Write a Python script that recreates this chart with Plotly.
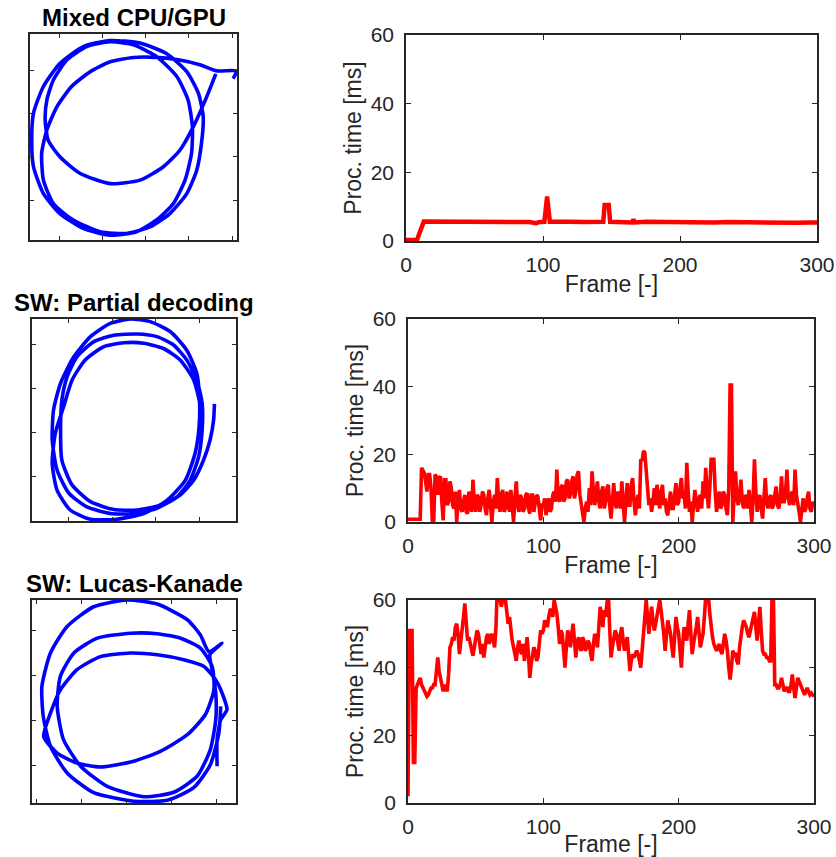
import plotly.graph_objects as go

# ---------------- data ----------------
titles = ["Mixed CPU/GPU", "SW: Partial decoding", "SW: Lucas-Kanade"]

# trajectories (arbitrary ground units, 1 tick = 1 unit)
traj1_x = [4.02, 4.10, 3.64, 3.25, 2.79, 2.25, 1.72, 1.18, 0.72, 0.29, -0.05, -0.28, -0.40, -0.36, -0.13, 0.33,
           0.95, 1.56, 2.10, 2.56, 2.95, 3.18, 3.29, 3.33, 3.22, 2.95, 2.48, 1.87, 1.18, 0.56, 0.02, -0.36,
           -0.59, -0.63, -0.59, -0.36, 0.02, 0.56, 1.18, 1.79, 2.25, 2.64, 2.91, 3.06, 3.08, 2.98, 2.72, 2.25,
           1.72, 1.18, 0.64, 0.18, -0.13, -0.28, -0.32, -0.25, 0.02, 0.48, 1.18, 1.87, 2.41, 2.79, 3.10, 3.41, 3.62]
traj1_y = [2.80, 2.98, 2.98, 3.12, 3.23, 3.29, 3.29, 3.19, 2.96, 2.62, 2.15, 1.62, 1.08, 0.46, -0.08, -0.46,
           -0.73, -0.77, -0.62, -0.31, 0.15, 0.69, 1.31, 1.92, 2.46, 2.96, 3.38, 3.62, 3.68, 3.54, 3.15, 2.62,
           2.00, 1.38, 0.77, 0.15, -0.31, -0.65, -0.81, -0.73, -0.46, -0.08, 0.46, 1.08, 1.69, 2.31, 2.85, 3.31,
           3.58, 3.65, 3.54, 3.23, 2.77, 2.31, 1.85, 1.38, 1.00, 0.62, 0.38, 0.46, 0.77, 1.15, 1.69, 2.38, 2.91]

traj2_x = [3.33, 3.31, 3.23, 3.08, 2.86, 2.55, 2.10, 1.57, 1.04, 0.51, 0.09, -0.14, -0.17, -0.14, -0.02, 0.20,
           0.58, 1.04, 1.57, 2.02, 2.40, 2.70, 2.93, 3.05, 3.05, 2.97, 2.78, 2.48, 2.02, 1.49, 0.96, 0.43,
           0.02, -0.25, -0.36, -0.33, -0.17, 0.13, 0.51, 0.96, 1.42, 1.87, 2.33, 2.70, 2.93, 2.99, 2.98, 2.89,
           2.67, 2.25, 1.72, 1.11, 0.51, 0.05, -0.25, -0.36, -0.29, -0.10, 0.09, 0.39, 0.81, 1.27, 1.72, 2.17,
           2.55, 2.86, 3.01, 3.03]
traj2_y = [1.64, 1.27, 0.82, 0.36, -0.09, -0.43, -0.66, -0.77, -0.76, -0.58, -0.20, 0.36, 1.05, 1.73, 2.26, 2.71,
           3.05, 3.20, 3.23, 3.17, 2.98, 2.64, 2.18, 1.65, 1.05, 0.44, -0.09, -0.47, -0.73, -0.85, -0.85, -0.70,
           -0.39, 0.14, 0.82, 1.50, 2.11, 2.71, 3.17, 3.47, 3.57, 3.51, 3.28, 2.86, 2.33, 1.73, 1.12, 0.52,
           -0.09, -0.55, -0.85, -0.98, -0.98, -0.77, -0.32, 0.29, 0.97, 1.58, 2.18, 2.64, 2.94, 3.03, 3.02, 2.90,
           2.64, 2.18, 1.58, 1.05]

traj3_x = [4.02, 4.02, 4.10, 4.24, 4.13, 3.99, 3.73, 3.28, 2.69, 2.10, 1.43, 0.91, 0.54, 0.32, 0.17, 0.47,
           0.91, 1.43, 2.17, 2.76, 3.36, 3.76, 3.95, 3.91, 3.65, 3.21, 2.69, 2.10, 1.36, 0.84, 0.54, 0.47,
           0.61, 0.99, 1.58, 2.39, 3.06, 3.58, 3.87, 3.99, 3.99, 3.91, 3.86, 4.13, 3.84, 3.65, 3.36, 2.69,
           2.02, 1.28, 0.69, 0.32, 0.13, 0.16, 0.32, 0.69, 1.28, 2.17, 2.91, 3.50, 3.87, 4.06, 4.10]
traj3_y = [-0.02, 0.57, 1.01, 1.24, 1.61, 1.90, 2.20, 2.35, 2.46, 2.50, 2.42, 2.13, 1.68, 1.16, 0.64, 0.27,
           0.05, -0.04, 0.09, 0.31, 0.68, 1.13, 1.68, 2.20, 2.61, 2.83, 2.93, 2.94, 2.83, 2.50, 1.98, 1.31,
           0.57, -0.02, -0.47, -0.70, -0.60, -0.24, 0.35, 1.01, 1.61, 2.13, 2.46, 2.72, 2.53, 2.90, 3.24, 3.59,
           3.68, 3.53, 3.09, 2.50, 1.76, 1.09, 0.42, -0.17, -0.61, -0.80, -0.78, -0.50, 0.01, 0.72, 1.31]

# processing time per frame [ms]
frames1 = [0, 8, 13, 20, 30, 40, 50, 60, 70, 80, 90, 95, 97, 101, 103, 105, 110, 120, 130, 140, 144, 145,
           148, 149, 155, 165, 166, 167, 175, 185, 195, 205, 215, 225, 235, 245, 255, 265, 275, 285, 295, 300]
proc1 = [0.3, 0.3, 5.7, 5.7, 5.6, 5.7, 5.6, 5.6, 5.5, 5.6, 5.5, 5.2, 5.5, 5.6, 13.0, 5.6, 5.5, 5.6, 5.5, 5.6,
         5.6, 10.5, 10.5, 5.6, 5.5, 5.4, 6.3, 5.4, 5.6, 5.5, 5.6, 5.5, 5.5, 5.4, 5.5, 5.4, 5.5, 5.4, 5.4, 5.3,
         5.4, 5.4]

frames23 = list(range(0, 301))
proc2 = [0.8, 0.8, 0.8, 0.8, 0.8, 0.8, 0.8, 0.8, 0.8, 0.8,
         16, 15, 14.5, 12, 9, 14, 14, 10, 0, 0,
         14, 13.5, 8, 13, 13.5, 6, 0.5, 12.5, 12.5, 5,
         6, 12, 10, 5, 4, 9, 0, 6, 9.5, 4,
         3, 6, 8, 3, 2.5, 9, 7, 3, 12.5, 6,
         3, 8, 7.5, 3, 5, 9, 8, 4, 2, 7,
         9.5, 5, 0, 6, 8, 4, 13, 6, 3, 8,
         9.5, 3, 4, 9, 6, 3, 9.5, 5, 0, 7,
         12, 5, 3, 8, 7, 3, 4, 8, 8.5, 4,
         2.5, 8, 8, 3, 5, 8, 7.5, 3, 0.5, 5,
         5, 7, 2, 6, 7, 3, 4, 8, 9, 6,
         15.5, 7, 6, 10, 11, 6, 7, 12, 12.5, 7,
         8, 12, 13.5, 7, 9, 14, 15, 8, 5, 3,
         0, 4, 6, 3, 10, 5, 15, 9, 5, 9,
         12, 6, 4, 9, 10.5, 4, 6, 10, 11, 5,
         1, 6, 11.5, 6, 4, 9, 8, 4, 12, 6,
         0, 6, 11.5, 5, 5, 11, 13, 6, 2, 6,
         8, 4, 18.5, 18, 21, 20.5, 14, 8, 5, 7,
         3, 6, 10, 5, 11, 7, 4, 9, 11, 5,
         7, 3, 2, 6, 9, 4, 4, 8, 11.5, 5,
         6, 10, 13, 7, 8, 4, 17.5, 9, 3, 6,
         0, 5, 9.5, 6, 3, 7, 8, 4, 12, 7,
         16, 9, 4, 10, 18.5, 18.5, 18.5, 9, 3, 6,
         9, 4, 5, 9, 8, 4, 2, 10, 40.5, 40.5,
         0, 8, 15, 7, 5, 8, 12.5, 6, 4, 8,
         7, 4, 9.5, 5, 0, 7, 18.5, 9, 3, 6,
         8, 4, 1, 7, 13, 6, 4, 7, 8, 4,
         5, 8, 10.5, 5, 4, 7, 13.5, 6, 6, 9,
         15.5, 7, 5, 8, 9, 5, 15.5, 8, 6, 3,
         0, 5, 7, 3, 4, 7, 9, 4, 3, 6,
         4.5]
proc3 = [2, 51, 51, 51, 12, 12, 34, 35, 36, 37,
         35, 34, 33, 32, 31.5, 32, 33, 34, 34, 35,
         35, 38, 43, 39, 37, 34, 33, 35, 34, 33,
         38, 46, 47, 49, 48, 52, 53, 50, 44, 47,
         52, 55, 59, 52, 48, 49, 47, 45, 43.5, 46,
         48, 51, 50, 46, 44, 47, 43, 46, 49, 50,
         47, 49, 50, 48, 46, 52, 64, 62, 60, 58,
         60, 61, 60, 56, 53, 55, 50, 48, 46, 44,
         42, 46, 48, 45, 44, 47, 42, 45, 49, 44,
         37, 41, 44, 46, 45, 42, 43, 48, 51, 50,
         51, 54, 53, 52, 55, 57, 57, 55, 60, 58,
         56, 52, 47, 51, 50, 45, 40, 46, 51, 49,
         46, 50, 53, 48, 43, 47, 49, 46, 45, 49,
         48, 45, 46, 48, 47, 44, 42, 47, 50, 48,
         46, 52, 58, 55, 52, 57, 55, 59, 62, 52,
         43, 46, 48, 51, 50, 47, 45, 50, 52, 48,
         45, 47, 49, 44, 39, 42, 44, 43, 44, 45,
         44, 42, 40, 45, 50, 56, 60, 55, 50, 54,
         58, 54, 51, 53, 55, 58, 60, 57, 54, 50,
         45, 50, 54, 52, 50, 46, 43, 49, 55, 52,
         50, 45, 40, 47, 52, 50, 48, 53, 57, 50,
         44, 47, 49, 52, 55, 51, 46, 48, 50, 55,
         61, 61, 61, 56, 51, 49, 47, 46, 45, 46,
         47, 45, 44, 47, 50, 48, 45, 40, 36.5, 40,
         45, 44, 44, 42, 41, 46, 50, 52, 54, 53,
         52, 50, 49, 51, 53, 55, 56.5, 52, 48, 53,
         58, 51, 45, 44, 44, 43, 43, 42, 42, 61,
         61, 35, 35, 34, 34, 35, 37, 35, 33, 34,
         34, 33, 33, 35, 38, 34, 31, 34, 37, 36,
         35, 34, 33, 32, 33, 34, 33, 32, 32.5, 32,
         31.5]

frame_ticks = [0, 100, 200, 300]
time_ticks = [0, 20, 40, 60]

# ---------------- layout helpers ----------------
W, H = 836, 857
def xdom(a, b):
    return [a / W, b / W]
def ydom(top, bottom):
    return [1 - bottom / H, 1 - top / H]

left_boxes = [(30, 237, 34, 240), (32, 236, 319, 521), (32, 236, 600, 803)]
right_boxes = [(406, 817, 35, 241), (408, 814, 319, 522), (408, 814, 600, 803)]
left_xrange = [[-0.67, 4.11], [-0.82, 3.82], [-0.09, 4.44]]
left_yrange = [[-0.92, 3.83], [-1.02, 3.57], [-0.84, 3.68]]
left_xticks = [[0, 1, 2, 3, 4], [0, 1, 2, 3], [0, 1, 2, 3, 4]]
left_yticks = [[0, 1, 2, 3], [0, 1, 2, 3], [0, 1, 2, 3]]
series_width = [4.5, 3.6, 3.6]

trajs = [(traj1_x, traj1_y), (traj2_x, traj2_y), (traj3_x, traj3_y)]
series = [(frames1, proc1), (frames23, proc2), (frames23, proc3)]

AX = "#262626"
FONT = "Liberation Sans, Arial, Helvetica, sans-serif"

fig = go.Figure()
layout = dict(template="none", width=W, height=H, autosize=False, margin=dict(l=0, r=0, t=0, b=0, pad=0),
              paper_bgcolor="white", plot_bgcolor="white", showlegend=False,
              font=dict(family=FONT, color=AX))
annotations = []

for i in range(3):
    li = 2 * i + 1
    ri = 2 * i + 2
    lx = "x" if li == 1 else f"x{li}"
    ly = "y" if li == 1 else f"y{li}"
    rx = f"x{ri}"
    ry = f"y{ri}"
    tx, ty = trajs[i]
    fig.add_trace(go.Scatter(x=tx, y=ty, mode="lines", xaxis=lx, yaxis=ly,
                             line=dict(color="#0000ff", width=3.6, shape="spline", smoothing=0.6)))
    fx, fy = series[i]
    fig.add_trace(go.Scatter(x=fx, y=fy, mode="lines", xaxis=rx, yaxis=ry,
                             line=dict(color="#ff0000", width=series_width[i])))

    a, b, t, btm = left_boxes[i]
    common = dict(showline=True, linecolor=AX, linewidth=1.6, mirror="ticks", ticks="inside",
                  ticklen=4, tickwidth=1.2, tickcolor=AX, showgrid=False, zeroline=False,
                  showticklabels=False, fixedrange=True, automargin=False)
    layout[("xaxis" if li == 1 else f"xaxis{li}")] = dict(domain=xdom(a, b), anchor=ly, range=left_xrange[i],
                                                           tickvals=left_xticks[i], **common)
    layout[("yaxis" if li == 1 else f"yaxis{li}")] = dict(domain=ydom(t, btm), anchor=lx, range=left_yrange[i],
                                                           tickvals=left_yticks[i], **common)
    annotations.append(dict(text=f"<b>{titles[i]}</b>", xref="paper", yref="paper",
                            x=(a + b) / 2 / W, y=1 - t / H, xanchor="center", yanchor="bottom",
                            yshift=1, showarrow=False, font=dict(size=24, color="black", family=FONT)))

    a, b, t, btm = right_boxes[i]
    rcommon = dict(showline=True, linecolor=AX, linewidth=1.6, mirror="ticks", ticks="inside",
                   ticklen=5, tickwidth=1.2, tickcolor=AX, showgrid=False, zeroline=False,
                   tickfont=dict(size=21, color=AX, family=FONT), fixedrange=True, automargin=False)
    layout[f"xaxis{ri}"] = dict(domain=xdom(a, b), anchor=ry, range=[0, 300], tickvals=frame_ticks,
                                title=dict(text="Frame [-]", font=dict(size=23, color=AX), standoff=1),
                                ticklabelstandoff=4, **rcommon)
    layout[f"yaxis{ri}"] = dict(domain=ydom(t, btm), anchor=rx, range=[0, 60], tickvals=time_ticks,
                                title=dict(text="Proc. time [ms]", font=dict(size=23, color=AX), standoff=3),
                                ticklabelstandoff=6, **rcommon)

layout["annotations"] = annotations
fig.update_layout(**layout)
fig.write_html("out.html", config={"displayModeBar": False},
               post_script="document.body.style.margin='0px';document.body.style.overflow='hidden';")
